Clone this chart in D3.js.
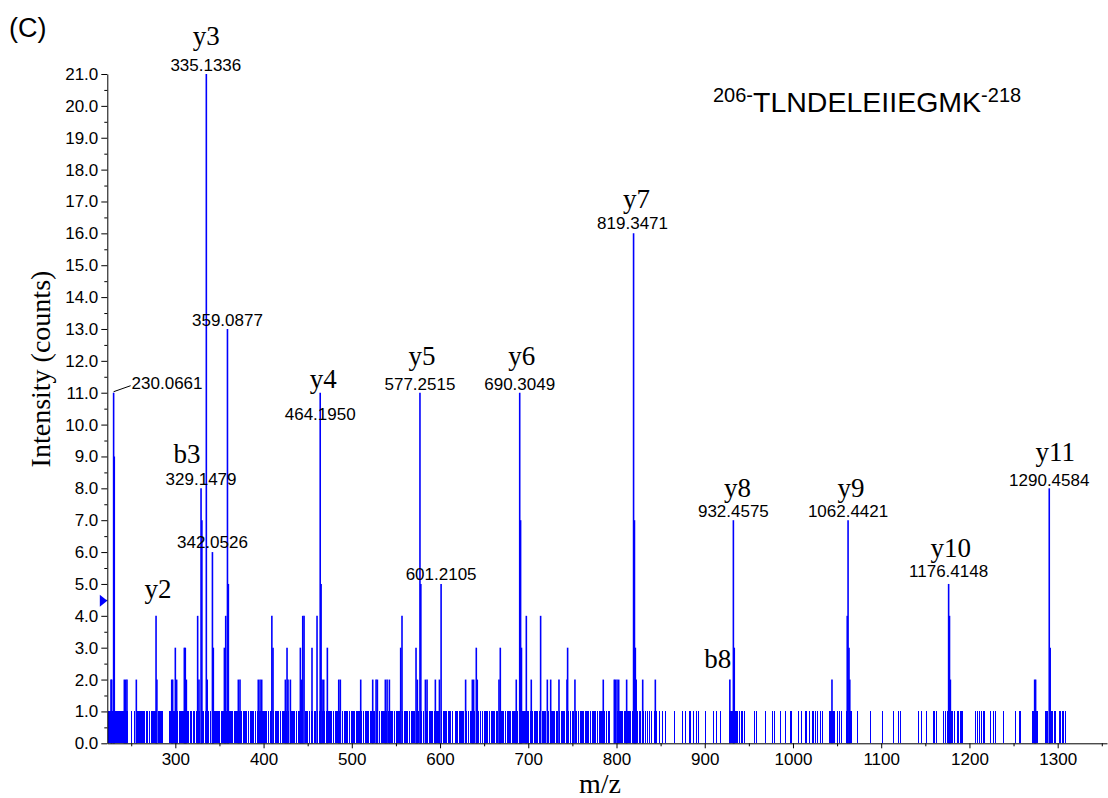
<!DOCTYPE html>
<html>
<head>
<meta charset="utf-8">
<script src="https://cdn.jsdelivr.net/npm/d3@7"></script>
<style>
  body { margin: 0; background: #fff; }
  svg { display: block; }
</style>
</head>
<body>
<svg id="chart" width="1108" height="798"></svg>
<script>
// MS/MS spectrum of peptide 206-TLNDELEIIEGMK-218

// single-count background ions (m/z)
const noiseMz = [
  224.4, 225.3, 226.2, 228.6, 229.4, 231.9, 233.5, 234.7, 235.4, 236.9, 238.1, 239.2, 240.5, 241.4, 244.5, 246.2,
  250.8, 254.2, 256.9, 258.2, 259.5, 260.4, 261.6, 262.5, 263.7, 264.3, 265.6, 266.8, 267.4, 268.7, 270.3, 271.2,
  272.5, 273.9, 275.2, 276.1, 277.7, 280.4, 281.3, 282.6, 283.4, 284.8, 285.7, 292.9, 293.7, 294.6, 296.5, 298.3, 299.2,
  301.1, 302.7, 304.6, 305.4, 306.8, 308.6, 309.3, 313.6, 314.8, 316.7, 317.9, 318.8, 320.7, 321.9, 323.7, 324.5,
  326.2, 327.7, 331.3, 332.2, 334.3, 336.9, 337.7, 339.5, 340.4, 344.2, 345.1, 346.9, 347.6, 349.4, 350.5, 352.3,
  353.2, 354.1, 356.3, 358.1, 361.5, 362.4, 364.2, 365.1, 366.9, 367.8, 369.6, 370.5, 372.4, 374.3, 375.2, 377.0,
  377.9, 379.7, 380.4, 382.4, 383.3, 385.1, 386.0, 387.8, 388.5, 390.5, 391.4, 393.2, 395.2, 397.0, 398.9, 399.8,
  400.7, 402.5, 403.4, 405.2, 406.1, 407.9, 408.6, 411.6, 413.4, 414.3, 416.1, 417.0, 418.8, 419.7, 421.5, 422.4,
  423.3, 425.5, 428.8, 431.4, 432.3, 434.1, 435.0, 436.8, 437.7, 439.5, 440.4, 443.6, 447.0, 448.8, 449.7, 451.5,
  452.4, 454.2, 456.0, 457.8, 458.7, 461.5, 463.3, 467.2, 469.1, 470.9, 473.5, 474.4, 476.2, 477.1, 478.9, 479.8,
  481.6, 482.5, 484.3, 486.1, 488.9, 489.8, 491.6, 492.5, 494.3, 495.2, 497.0, 497.9, 499.7,
  500.6, 502.4, 503.3, 505.1, 506.0, 507.8, 508.7, 511.0, 512.8, 513.7, 515.5, 516.4, 518.2, 519.1, 520.9, 521.8,
  524.6, 525.5, 528.3, 530.9, 531.8, 533.6, 534.5, 536.3, 537.2, 539.5, 541.4, 543.5, 545.3, 546.2, 548.0, 548.9,
  550.7, 551.6, 553.4, 554.3, 557.8, 559.6, 560.5, 562.3, 563.2, 565.0, 565.9, 567.7, 568.6, 570.4, 571.3, 573.6,
  575.2, 579.0, 580.8, 581.7, 584.4, 586.2, 588.0, 588.9, 590.7, 591.6, 593.4, 595.6, 597.4, 598.3,
  599.9, 602.2, 604.0, 604.9, 606.7, 607.6, 609.2, 611.0, 611.9, 613.7, 614.6, 617.2, 618.1, 619.9, 621.5, 623.3,
  624.2, 626.0, 626.9, 630.0, 631.8, 632.7, 634.5, 635.4, 637.3, 639.2, 643.1, 644.0, 645.8, 647.6, 648.5, 650.3,
  651.2, 653.0, 653.9, 655.7, 656.6, 658.4, 659.3, 661.1, 662.0, 663.8, 664.7, 667.5, 669.2, 671.0, 671.9, 673.7,
  674.6, 676.4, 677.3, 679.1, 680.0, 681.8, 682.7, 684.5, 685.4, 687.3, 688.2, 693.2, 694.1, 695.9, 696.8, 698.7, 699.6,
  700.5, 702.3, 704.3, 705.2, 707.0, 707.9, 709.7, 710.6, 712.4, 713.1, 715.9, 716.8, 718.6, 719.5, 722.5, 723.4,
  726.3, 727.2, 729.0, 729.9, 731.7, 732.6, 735.7, 737.5, 738.4, 740.2, 741.1, 742.9, 745.5, 747.3, 748.2, 750.0,
  750.9, 753.8, 754.7, 756.5, 757.4, 759.2, 760.1, 761.9, 762.8, 764.6, 765.5, 767.3, 768.2, 770.0, 770.9, 772.7,
  773.6, 775.4, 776.3, 778.1, 779.0, 780.8, 781.7, 783.5, 784.2, 785.9, 788.3, 789.2, 790.6, 791.5,
  797.8, 799.2, 801.4, 803.4, 804.3, 806.1, 807.0, 808.8, 809.7, 812.4, 813.3, 815.1, 816.0, 817.8, 818.5, 823.2,
  824.1, 825.9, 826.8, 830.4, 832.7, 835.3, 837.2, 840.2, 842.9, 844.8, 848.5, 852.3, 855.3, 865.5, 875.0, 878.0,
  882.5, 884.4, 887.0, 890.1, 893.1, 901.4, 909.7, 912.8, 918.4, 927.9, 929.4, 930.6, 931.5, 935.3, 936.2, 937.4,
  939.3, 941.2, 943.0, 944.9, 956.2, 958.1, 968.7, 977.0,
  979.2, 985.6, 991.7, 997.0, 998.0, 1006.4, 1009.4, 1014.0, 1015.0, 1018.9, 1021.9, 1023.4, 1025.7, 1027.5,
  1031.3, 1034.0, 1041.5, 1042.6, 1043.6, 1045.3, 1046.4, 1047.2, 1051.0, 1052.9, 1054.7, 1060.4, 1065.0, 1066.0,
  1072.9, 1087.6, 1102.0, 1114.4, 1120.1, 1122.0, 1142.4, 1145.4, 1151.1, 1159.4, 1160.9, 1162.4, 1171.1, 1172.6,
  1175.6, 1179.2, 1180.3, 1181.3, 1182.5, 1183.6, 1186.2, 1188.1, 1189.3, 1190.8, 1192.3, 1207.4, 1209.3, 1211.2,
  1213.4, 1215.7, 1217.2, 1223.3, 1227.0, 1230.0, 1238.4, 1252.4, 1256.5, 1258.0, 1270.9, 1271.8, 1272.6, 1275.8,
  1276.9, 1286.7, 1287.8, 1288.9, 1292.4, 1293.5, 1294.6, 1296.0, 1297.0, 1301.5, 1303.4, 1305.3, 1307.1, 1308.6
];

// fragment ions with two or more counts
const peakMz = [
  227.1, 227.9, 230.0661, 230.8, 242.2, 243.7, 245.2, 255.8, 278.15, 279.1, 295.9, 297.0, 300.0, 301.5,
  310.2, 311.3, 312.5, 325.3, 326.8, 329.1479, 330.1, 335.1336, 336.1, 342.0526, 343.05, 355.6, 357.1,
  359.0877, 360.1, 371.4, 373.3, 394.0, 396.0, 397.9, 409.4, 410.7, 424.7, 426.6, 427.7, 430.4, 441.7,
  442.8, 444.4, 445.9, 454.9, 460.6, 464.1950, 465.2, 466.3, 468.2, 472.3, 485.2, 487.0, 510.1, 523.7,
  527.5, 529.0, 538.0, 540.0, 542.6, 555.4, 556.9, 572.8, 574.3, 577.2515, 578.25, 583.4, 585.3, 594.7,
  599.3, 601.2105, 629.0, 636.6, 638.1, 641.1, 642.2, 666.8, 668.3, 686.4, 690.3049, 691.3, 692.3, 697.8,
  703.4, 714.0, 721.6, 725.4, 734.8, 743.9, 744.6, 752.9, 785.0, 797.5, 798.7, 800.6, 802.5, 811.5,
  819.3471, 820.35, 821.35, 822.3, 829.7, 844.0, 928.46, 932.4575, 933.46, 1044.2, 1061.5, 1062.4421,
  1063.5, 1064.4, 1176.4148, 1177.4, 1178.4, 1273.9, 1275.0, 1290.4584, 1291.5
];
const peakCounts = [
  2, 2, 11, 9, 2, 2, 2, 2, 4, 2, 2, 2, 3, 2,
  3, 3, 2, 4, 2, 8, 7, 21, 2, 6, 3, 3, 4,
  13, 5, 2, 2, 2, 2, 2, 4, 3, 2, 3, 2, 2, 3,
  2, 4, 4, 3, 4, 11, 5, 2, 2, 3, 2, 2, 2, 2,
  2, 2, 2, 2, 2, 3, 4, 3, 2, 11, 5, 2, 2, 2,
  2, 5, 2, 2, 2, 3, 2, 2, 3, 2, 11, 7, 3, 4,
  2, 4, 2, 2, 2, 2, 3, 2, 2, 2, 2, 2, 2, 2,
  16, 7, 3, 2, 2, 2, 2, 7, 3, 2, 4, 7,
  3, 2, 5, 4, 2, 2, 2, 8, 3
];

// annotated ions
const labelIon    = ['', 'y2', 'b3', 'y3', '', '', 'y4', 'y5', '', 'y6', 'y7', 'b8', 'y8', 'y9', 'y10', 'y11'];
const labelMz     = [230.0661, 278.15, 329.1479, 335.1336, 342.0526, 359.0877, 464.1950, 577.2515, 601.2105,
                     690.3049, 819.3471, 928.46, 932.4575, 1062.4421, 1176.4148, 1290.4584];
const labelCounts = [11, 4, 8, 21, 6, 13, 11, 11, 5, 11, 16, 2, 7, 7, 5, 8];
const labelValue  = ['230.0661', '', '329.1479', '335.1336', '342.0526', '359.0877', '464.1950', '577.2515',
                     '601.2105', '690.3049', '819.3471', '', '932.4575', '1062.4421', '1176.4148', '1290.4584'];

const yTickValues = d3.range(0, 21.5, 1);
const xTickValues = d3.range(300, 1301, 100);

// label offsets (px) from the peak top: [ionDx, ionDy, valueDx, valueDy]
const labelOffsets = [
  [0, 0, 18, -3.5], [2, -18, 0, 0], [-14, -25, 0, -3.3], [0, -29, -0.5, -3.3],
  [0, 0, 0, -3.8], [0, 0, 0, -3], [3, -5, 0, 27], [2, -28, 0, -3], [0, 0, 0, -4],
  [2, -28, 0, -3], [3, -25, -1, -4], [-12, -12, 0, 0], [4, -23, 0, -3],
  [3, -23, 0, -3], [2, -27, 0, -7], [6, -27, 0, -2]
];

const svg = d3.select('#chart');
const sans = "'Liberation Sans', Arial, sans-serif";
const serif = "'Liberation Serif', 'Times New Roman', serif";
const blue = '#0000ff';

const x = d3.scaleLinear().domain([222.9, 1355.9]).range([107.3, 1107]);
const y = d3.scaleLinear().domain([0, 21]).range([743.3, 74]);

// background sticks, snapped to whole pixels
svg.append('g').attr('stroke', blue).attr('stroke-width', 1).attr('shape-rendering', 'crispEdges')
  .selectAll('line').data(noiseMz).join('line')
  .attr('x1', d => x(d)).attr('x2', d => x(d))
  .attr('y1', y(0)).attr('y2', y(1));

// fragment sticks
svg.append('g').attr('stroke', blue).attr('stroke-width', 1.6)
  .selectAll('line').data(peakMz.map((m, i) => ({ m, c: peakCounts[i] }))).join('line')
  .attr('x1', d => x(d.m)).attr('x2', d => x(d.m))
  .attr('y1', y(0)).attr('y2', d => y(d.c));

// axes
svg.append('g').attr('transform', `translate(${x.range()[0]},0)`)
  .call(d3.axisLeft(y).tickValues(yTickValues).tickFormat(d3.format('.1f'))
    .tickSize(6).tickSizeOuter(0).tickPadding(3));
svg.append('g').attr('transform', `translate(${x.range()[0]},0)`)
  .call(d3.axisLeft(y).tickValues(d3.range(0.5, 21, 1)).tickFormat('').tickSize(3).tickSizeOuter(0))
  .select('.domain').remove();

svg.append('g').attr('transform', `translate(0,${y(0)})`)
  .call(d3.axisBottom(x).tickValues(xTickValues).tickFormat(d3.format('d'))
    .tickSize(5).tickSizeOuter(0).tickPadding(5));
svg.append('g').attr('transform', `translate(0,${y(0)})`)
  .call(d3.axisBottom(x).tickValues(d3.range(250, 1351, 100)).tickFormat('').tickSize(3).tickSizeOuter(0))
  .select('.domain').remove();

svg.selectAll('.tick text').attr('font-family', sans).attr('font-size', 17).attr('fill', '#000');
svg.selectAll('.domain, .tick line').attr('stroke', '#000');

// threshold marker
const thr = 4.47;
svg.append('path')
  .attr('d', `M${x.range()[0]},${y(thr)} l-7.5,-6 l0,12 z`)
  .attr('fill', blue);

// annotations
const ann = svg.append('g');
labelMz.forEach((m, i) => {
  const px = x(m), top = y(labelCounts[i]);
  const [idx, idy, vdx, vdy] = labelOffsets[i];
  if (labelIon[i]) {
    ann.append('text').attr('x', px + idx).attr('y', top + idy)
      .attr('text-anchor', 'middle').attr('font-family', serif).attr('font-size', 27)
      .text(labelIon[i]);
  }
  if (labelValue[i]) {
    const t = ann.append('text').attr('x', px + vdx).attr('y', top + vdy)
      .attr('font-family', sans).attr('font-size', 17).text(labelValue[i]);
    if (i === 0) {
      t.attr('text-anchor', 'start');
      ann.append('line').attr('x1', px).attr('y1', top - 1).attr('x2', px + 17).attr('y2', top - 7)
        .attr('stroke', '#000').attr('stroke-width', 1);
    } else {
      t.attr('text-anchor', 'middle');
    }
  }
});

// axis titles
svg.append('text').attr('transform', 'translate(50,369) rotate(-90)')
  .attr('text-anchor', 'middle').attr('font-family', serif).attr('font-size', 28)
  .text('Intensity (counts)');
svg.append('text').attr('x', 600).attr('y', 793)
  .attr('text-anchor', 'middle').attr('font-family', serif).attr('font-size', 28)
  .text('m/z');

// panel tag
svg.append('text').attr('x', 9).attr('y', 37).attr('font-family', sans).attr('font-size', 27).text('(C)');

// peptide sequence
const pep = svg.append('text').attr('x', 713).attr('y', 112).attr('font-family', sans).attr('fill', '#000');
pep.append('tspan').attr('font-size', 20).attr('dy', -10).text('206-');
pep.append('tspan').attr('font-size', 28.5).attr('dy', 10).text('TLNDELEIIEGMK');
pep.append('tspan').attr('font-size', 20).attr('dy', -10).text('-218');
</script>
</body>
</html>
